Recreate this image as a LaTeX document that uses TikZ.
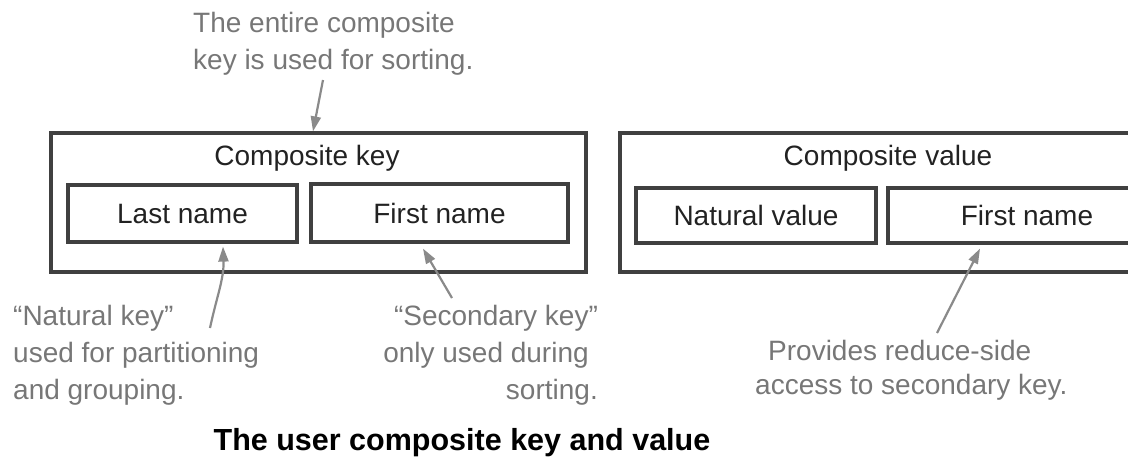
\documentclass[tikz,border=0pt]{standalone}
\usepackage{fontspec}
\setmainfont{Liberation Sans}
\usetikzlibrary{arrows.meta,calc}
\definecolor{boxline}{HTML}{404040}
\definecolor{boxtext}{HTML}{222222}
\definecolor{notetext}{HTML}{777777}
\definecolor{arrowcol}{HTML}{8A8A8A}
\tikzset{
  outerbox/.style={draw=boxline,line width=3.2pt,rectangle,inner sep=0pt,minimum height=139pt},
  innerbox/.style={draw=boxline,line width=3.2pt,rectangle,inner sep=0pt,text=boxtext,font=\fontsize{28}{30}\selectfont},
  boxtitle/.style={text=boxtext,font=\fontsize{28}{30}\selectfont,inner sep=0pt},
  note/.style={text=notetext,font=\fontsize{28}{30}\selectfont,inner sep=0pt},
  notearrow/.style={draw=arrowcol,line width=2.2pt,-{Triangle[length=15pt,width=10pt]}},
  caption/.style={text=black,font=\fontsize{30.5}{32}\selectfont\bfseries,inner sep=0pt}
}
\begin{document}
\begin{tikzpicture}[x=1pt,y=-1pt]
\useasboundingbox (0,0) rectangle (1128,459);
\clip (0,0) rectangle (1128,459);
% composite key
\node[outerbox,minimum width=535pt] (ck) at (318.5,202.5) {};
\node[boxtitle] (cktitle) at (307,158) {Composite key};
\node[innerbox,minimum width=229pt,minimum height=57pt] (ln) at (182.5,213.5) {Last name};
\node[innerbox,minimum width=257pt,minimum height=58pt] (fn) at (439.5,213) {First name};
% composite value
\node[outerbox,minimum width=560pt] (cv) at (900,202.5) {};
\node[boxtitle] (cvtitle) at (888,158) {Composite value};
\node[innerbox,minimum width=240pt,minimum height=55pt] (nv) at (756,215.5) {Natural value};
\node[innerbox,minimum width=278pt,minimum height=55pt] (fn2) at (1027,215.5) {First name};
% top note
\node[note,anchor=west] (top1) at (193,25) {The entire composite};
\node[note,anchor=west] (top2) at (193,62) {key is used for sorting.};
\coordinate (toptail) at (323,80);
\draw[notearrow] (toptail) -- ($(ck.north west)!(313,0)!(ck.north east)$);
% natural key note
\node[note,anchor=west] (nk1) at (13,318) {“Natural key”};
\node[note,anchor=west] (nk2) at (13,355) {used for partitioning};
\node[note,anchor=west] (nk3) at (13,392) {and grouping.};
\coordinate (nktail) at (210,328);
\draw[notearrow] (nktail) to[out=78,in=-88] ($(ln.south west)!(223,0)!(ln.south east)+(0,3)$);
% secondary key note
\node[note] (sk1) at (496,318) {“Secondary key”};
\node[note] (sk2) at (486,355) {only used during};
\node[note,anchor=east] (sk3) at (598,392) {sorting.};
\coordinate (sktail) at (452,298);
\draw[notearrow] (sktail) -- ($(fn.south west)!(423,0)!(fn.south east)+(0,5)$);
% provides note
\node[note,anchor=west] (pr1) at (768,350) {Provides reduce-side};
\node[note,anchor=west] (pr2) at (755,387) {access to secondary key.};
\coordinate (prtail) at (937,333);
\draw[notearrow] (prtail) -- ($(fn2.south west)!(980,0)!(fn2.south east)+(0,4)$);
% caption
\node[caption] (cap) at (462,443) {The user composite key and value};
\end{tikzpicture}
\end{document}
